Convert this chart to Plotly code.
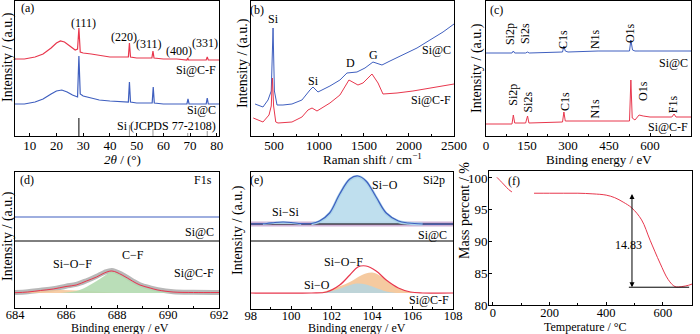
import plotly.graph_objects as go

FONT = "Liberation Serif"
RED = "#e8374d"
BLUE = "#3f5fbf"

# ---------------- (a) XRD ----------------
xrd_cf_2t = [4.5, 8, 12, 15, 18, 20, 21.5, 23, 25, 27, 27.9, 28.4, 28.9, 30, 33, 36, 40, 44, 46.9, 47.3,
             47.7, 50, 53, 55.7, 56.1, 56.5, 60, 65, 68.8, 69.1, 69.4, 72, 76.0, 76.4, 76.8, 80.8]
xrd_cf_int = [77, 77, 79, 82, 88, 93, 95, 94, 90, 86, 87, 108, 84, 83, 82, 81, 79, 79, 79, 93,
              79, 78, 78, 78, 85, 78, 77, 77, 76, 78, 76, 76, 76, 79, 76, 76]
xrd_c_2t = [4.5, 8, 12, 15, 18, 20, 22, 24, 26, 27.9, 28.4, 28.9, 30, 33, 36, 40, 44, 46.9, 47.3, 47.7,
            50, 53, 55.8, 56.2, 56.6, 60, 65, 68.8, 69.2, 69.6, 72, 76.0, 76.4, 76.8, 80.8]
xrd_c_int = [32, 32, 34, 37, 42, 45, 46, 44, 41, 39, 80, 42, 40, 38, 36, 35, 34, 34, 54, 34,
             33, 33, 33, 49, 33, 32, 32, 32, 37, 32, 32, 32, 38, 32, 32]
jcpds_pos = [28.4, 47.3, 56.1, 69.1, 76.4]
jcpds_int = [18, 11, 7, 3, 5]
xrd_peaks = ["(111)", "(220)", "(311)", "(400)", "(331)"]
xrd_peak_lbl_x = [30.2, 45.1, 54.7, 65.7, 75.7]
xrd_peak_lbl_y = [113, 99, 92, 85, 93]

# ---------------- (b) Raman ----------------
raman_c_x = [290, 378, 434, 470, 490, 505, 534, 600, 700, 811, 900, 934, 989, 1122, 1233, 1311, 1422,
             1511, 1600, 1700, 1789, 1933, 2089, 2233, 2378, 2500]
raman_c_y = [32, 29, 36, 45, 108, 45, 31, 31, 32, 36, 46, 49, 44, 50, 56, 63, 64,
             68, 74, 71, 75, 81, 88, 96, 104, 112]
raman_cf_x = [270, 378, 445, 470, 483, 496, 520, 545, 700, 811, 878, 923, 978, 1122, 1233, 1333, 1433,
              1489, 1589, 1656, 1711, 1867, 2044, 2233, 2500]
raman_cf_y = [18, 14, 21, 30, 58, 30, 14, 13, 14, 19, 26, 28, 25, 33, 41, 56, 51,
              53, 62, 53, 42, 43, 45, 48, 52]

# ---------------- (c) XPS survey ----------------
xps_c_be = [0, 95, 100, 105, 145, 152, 158, 280, 285, 290, 300, 390, 400, 410, 525, 530, 536, 545, 560, 750]
xps_c_int = [83, 83, 85, 83, 83, 84, 83, 84, 90, 85, 84, 85, 85.5, 85, 85, 96, 86, 85, 85, 85]
xps_cf_be = [0, 95, 100, 105, 145, 152, 157, 280, 285, 290, 300, 525, 530, 535, 545, 560, 575, 600, 680,
             688, 695, 750]
xps_cf_int = [12, 12, 21, 13, 13, 20, 13, 14, 24, 15, 15, 15, 56, 18, 16, 21, 20, 19, 19,
              22, 19, 19]
xps_c_lbl = ["Si2p", "Si2s", "C1s", "N1s", "O1s"]
xps_c_lbl_x = [88, 143, 282, 399, 527]
xps_c_lbl_y = [102, 102, 96, 97, 103]
xps_cf_lbl = ["Si2p", "Si2s", "C1s", "N1s", "O1s", "F1s"]
xps_cf_lbl_x = [98, 154, 289, 399, 574, 687]
xps_cf_lbl_y = [41, 33.5, 35, 27.5, 45, 31.5]

# ---------------- (d) F1s ----------------
f1s_be = [684, 684.5, 685, 685.5, 686, 686.4, 686.8, 687.2, 687.5, 687.8, 688.2, 688.6, 688.9, 689.3,
          689.6, 690.2, 691, 692]
f1s_cf_fit = [0.3, 1, 2.5, 4, 6.5, 8, 12, 16, 20, 22, 18, 12, 8, 5, 3, 1, 0.5, 0.5]
f1s_cf_raw = [0.5, 1.3, 2.8, 4.3, 6.8, 8.6, 12.3, 16.8, 20.5, 22.6, 18.5, 12.4, 8.3, 5.2, 3.4, 1.3, 0.7, 0.6]
f1s_c_be = [684, 692]
f1s_c_int = [76, 76]
f1s_cf_comp_be = [685.8, 686.4, 686.8, 687.2, 687.5, 687.8, 688.2, 688.6, 688.9, 689.3, 689.6, 690.2]
f1s_cf_comp_int = [0, 2, 6, 12, 17, 21.5, 17, 11, 7, 4, 2, 0]
f1s_siof_be = [684.3, 685, 685.8, 686.5, 687.2, 688]
f1s_siof_int = [0, 2, 3, 2.5, 1.5, 0]
f1s_sep = 52

# ---------------- (e) Si2p ----------------
si2p_c_be = [98, 98.8, 99.2, 99.6, 100, 100.5, 101, 101.4, 101.9, 102.4, 102.9, 103.3, 103.7, 104.2,
             104.7, 105.3, 105.8, 106.5, 108]
si2p_c_int = [69, 69.5, 70.5, 71, 70.5, 69.3, 69.5, 72, 80, 99, 114, 117, 112, 96, 80, 72, 70, 69, 69]
si2p_c_bg_be = [98, 108]
si2p_c_bg = [69, 69]
si2p_c_sio_be = [101, 101.4, 101.9, 102.4, 102.9, 103.3, 103.7, 104.2, 104.7, 105.3, 105.8, 106.5]
si2p_c_sio = [69.3, 71.5, 79.5, 98.5, 113.5, 116.5, 111.5, 95.5, 79.5, 71.5, 69.8, 69]
si2p_c_sisi_be = [98.6, 99.2, 99.6, 100, 100.5]
si2p_c_sisi = [69, 70.3, 70.8, 70.3, 69]
si2p_cf_be = [98, 101, 101.75, 102.4, 102.9, 103.3, 103.7, 104.2, 104.7, 105.3, 105.9, 106.5, 108]
si2p_cf_int = [0, 0, 1, 8, 18, 26, 27, 22, 13, 5, 1, 0, 0]
si2p_cf_siof_be = [101.3, 101.9, 102.9, 103.5, 104.0, 104.5, 105.0, 105.7, 106.2]
si2p_cf_siof = [0, 3, 11, 18, 20.5, 16, 8, 2, 0]
si2p_cf_sio_be = [101.3, 101.9, 102.5, 103.0, 103.3, 103.7, 104.2, 104.7, 105.2]
si2p_cf_sio = [0, 1.5, 5, 8.5, 9.5, 8.5, 5, 1.5, 0]
si2p_sep = 52

# ---------------- (f) TGA ----------------
tga_T = [14, 25, 40, 55, 67, None, 145, 200, 250, 300, 353, 400, 430, 460, 490, 525, 555, 590, 619, 643,
         667, 690, 703]
tga_mass = [100.1, 99.6, 98.9, 98.2, 97.8, None, 97.6, 97.6, 97.6, 97.6, 97.5, 97.3, 96.9, 96.2, 95.3,
            93.4, 90.2, 86.6, 84.0, 82.9, 82.9, 83.1, 83.3]
tga_ticks = [80, 85, 90, 95, 100]
tga_arrow_T = 491
tga_arrow_top = 97.7
tga_arrow_bot = 82.8
tga_loss_label = "14.83"

W, H = 700, 334

fig = go.Figure()


def add(x, y, ax, color, width=1.0, shape="linear", fill=None, fillcolor=None):
    fig.add_trace(go.Scatter(
        x=x, y=y, xaxis="x" + ax, yaxis="y" + ax, mode="lines",
        line=dict(color=color, width=width, shape=shape),
        fill=fill, fillcolor=fillcolor, showlegend=False, hoverinfo="skip", connectgaps=False))


# (a)
add(xrd_cf_2t, xrd_cf_int, "", RED, 1.2)
add(xrd_c_2t, xrd_c_int, "", BLUE, 1.2)
sx, sy = [], []
for p, h in zip(jcpds_pos[:1], jcpds_int[:1]):
    sx += [p, p, None]; sy += [0, h, None]
add(sx, sy, "", "black", 1.0)
sx, sy = [], []
for p, h in zip(jcpds_pos[1:], jcpds_int[1:]):
    sx += [p, p, None]; sy += [0, h, None]
add(sx, sy, "", "#999999", 1.0)

# (b)
add(raman_c_x, raman_c_y, "2", BLUE, 1.0)
add(raman_cf_x, raman_cf_y, "2", RED, 1.0)

# (c)
add(xps_c_be, xps_c_int, "3", BLUE, 1.0)
add(xps_cf_be, xps_cf_int, "3", RED, 1.0)

# (d)
add(f1s_c_be, f1s_c_int, "4", BLUE, 1.2)
add(f1s_be, f1s_cf_raw, "4", "#b8b8b8", 5, "spline")
add(f1s_siof_be, f1s_siof_int, "4", "rgba(0,0,0,0)", 0.5, "spline", "tozeroy", "rgba(244,196,150,0.85)")
add(f1s_cf_comp_be, f1s_cf_comp_int, "4", "rgba(0,0,0,0)", 0.5, "spline", "tozeroy", "rgba(178,218,176,0.9)")
add(f1s_be, f1s_cf_fit, "4", RED, 1.0, "spline")

# (e)
add(si2p_c_bg_be, si2p_c_bg, "5", "#cfb2d6", 5)
add(si2p_c_bg_be, si2p_c_bg, "5", "black", 1.0)
add(si2p_c_sio_be, si2p_c_sio, "5", "#a9d3ea", 3, "spline", "tonexty", "rgba(184,220,236,0.9)")
add(si2p_c_bg_be, si2p_c_bg, "5", "rgba(0,0,0,0)", 0.1)
add(si2p_c_sisi_be, si2p_c_sisi, "5", "#a9d3ea", 2, "spline", "tonexty", "rgba(184,220,236,0.9)")
add(si2p_c_be, si2p_c_int, "5", BLUE, 1.2, "spline")
add(si2p_cf_siof_be, si2p_cf_siof, "5", "rgba(0,0,0,0)", 0.5, "spline", "tozeroy", "rgba(244,196,150,0.9)")
add(si2p_cf_sio_be, si2p_cf_sio, "5", "rgba(0,0,0,0)", 0.5, "spline", "tozeroy", "rgba(180,214,226,0.85)")
add(si2p_cf_be, si2p_cf_int, "5", RED, 1.2, "spline")

# (f)
add(tga_T, tga_mass, "6", RED, 1.0, "spline")

# ---------- axes ----------
def px_x(p):
    return p / W


def px_y(p):
    return (H - p) / H


panels = {
    "": dict(x=(15, 219), y=(1, 136), xr=[4.5, 80.8], yr=[0, 135], dt=10, t0=10, minor=None, so=-3, fs=13),
    "2": dict(x=(251, 454), y=(1, 136), xr=[245, 2500], yr=[0, 135], dt=500, t0=500, minor=250, so=-3, fs=13),
    "3": dict(x=(486, 691), y=(1, 136), xr=[0, 750], yr=[0, 135], dt=150, t0=0, minor=75, so=-3, fs=13),
    "4": dict(x=(15, 219), y=(172, 308), xr=[684, 692], yr=[-15, 121], dt=2, t0=684, minor=1, so=-5, fs=12.5),
    "5": dict(x=(250.7, 453), y=(172, 309), xr=[98, 108], yr=[-16, 121], dt=2, t0=98, minor=1, so=-5, fs=12.5),
    "6": dict(x=(489, 692), y=(171, 305), xr=[-14, 703], yr=[80, 101.1], dt=200, t0=0, minor=100, so=-4, fs=12.5),
}

for k, p in panels.items():
    tickfont = dict(family=FONT, size=p["fs"], color="black")
    xa = dict(domain=[px_x(p["x"][0]), px_x(p["x"][1])], range=p["xr"], anchor="y" + k,
              showline=True, linecolor="black", linewidth=1, mirror=True, ticks="inside",
              ticklen=3, tickcolor="black", showgrid=False, zeroline=False, tickfont=tickfont,
              tick0=p["t0"], dtick=p["dt"], automargin=False, ticklabelstandoff=p["so"])
    if p["minor"]:
        xa["minor"] = dict(ticks="inside", ticklen=2, dtick=p["minor"], tickcolor="black", showgrid=False)
    ya = dict(domain=[px_y(p["y"][1]), px_y(p["y"][0])], range=p["yr"], anchor="x" + k,
              showline=True, linecolor="black", linewidth=1, mirror=True, showgrid=False,
              zeroline=False, automargin=False)
    if k == "6":
        ya.update(ticks="inside", ticklen=3, tickcolor="black",
                  tickfont=dict(family=FONT, size=13, color="black"),
                  tickmode="array", tickvals=tga_ticks, ticktext=[str(v) for v in tga_ticks],
                  showticklabels=True, ticklabelposition="outside", ticklabelstandoff=-2)
    else:
        ya.update(ticks="", showticklabels=False)
    fig.layout["xaxis" + k] = xa
    fig.layout["yaxis" + k] = ya

ann = []
F = dict(family=FONT, size=12, color="black")
FT = dict(family=FONT, size=13, color="black")
FTB = dict(family=FONT, size=12, color="black")
FY = dict(family=FONT, size=14, color="black")


def txt(ax, x, y, s, xanchor="center", angle=0):
    ann.append(dict(xref="x" + ax, yref="y" + ax, x=x, y=y, text=s, showarrow=False,
                    xanchor=xanchor, yanchor="middle", font=F, textangle=angle))


def ptxt(px, py, s, angle=0, font=FT):
    ann.append(dict(xref="paper", yref="paper", x=px_x(px), y=px_y(py), text=s, showarrow=False,
                    xanchor="center", yanchor="middle", font=font, textangle=angle))


# (a)
txt("", 9.2, 128, "(a)")
for s, x, y in zip(xrd_peaks, xrd_peak_lbl_x, xrd_peak_lbl_y):
    txt("", x, y, s)
txt("", 80.4, 66, "Si@C-F", "right")
txt("", 80.4, 26, "Si@C", "right")
txt("", 80.4, 10, "Si (JCPDS 77-2108)", "right")
# (b)
txt("2", 312, 126, "(b)")
txt("2", 500, 117, "Si")
txt("2", 934, 55, "Si")
txt("2", 1345, 73, "D")
txt("2", 1606, 81, "G")
txt("2", 2490, 86, "Si@C", "right")
txt("2", 2490, 36, "Si@C-F", "right")
# (c)
txt("3", 37, 126, "(c)")
for s, x, y in zip(xps_c_lbl, xps_c_lbl_x, xps_c_lbl_y):
    txt("3", x, y, s, angle=-90)
for s, x, y in zip(xps_cf_lbl, xps_cf_lbl_x, xps_cf_lbl_y):
    txt("3", x, y, s, angle=-90)
txt("3", 745, 73, "Si@C", "right")
txt("3", 745, 9, "Si@C-F", "right")
# (d)
txt("4", 684.46, 113, "(d)")
txt("4", 691.8, 113, "F1s", "right")
txt("4", 691.9, 61, "Si@C", "right")
txt("4", 686.27, 29, "Si−O−F")
txt("4", 688.63, 38, "C−F")
txt("4", 691.9, 20, "Si@C-F", "right")
# (e)
txt("5", 98.3, 113, "(e)")
txt("5", 107.7, 113, "Si2p", "right")
txt("5", 104.64, 108, "Si−O")
txt("5", 99.71, 81, "Si−Si")
txt("5", 107.8, 58, "Si@C", "right")
txt("5", 102.6, 31, "Si−O−F")
txt("5", 101.3, 8, "Si−O")
txt("5", 107.9, -7, "Si@C-F", "right")
# (f)
txt("6", 74, 99.5, "(f)")
txt("6", 480, 89.4, tga_loss_label)
ann.append(dict(xref="x6", yref="y6", axref="x6", ayref="y6", x=tga_arrow_T, y=tga_arrow_bot,
                ax=tga_arrow_T, ay=tga_arrow_top, text="", showarrow=True, arrowhead=2,
                arrowside="end+start", arrowsize=1, arrowwidth=1, arrowcolor="black"))

# axis titles
ptxt(122, 159, "<i>2θ</i> / (°)")
ptxt(372, 159, "Raman shift / cm<sup>−1</sup>")
ptxt(599, 159, "Binding energy / eV")
ptxt(120, 328, "Binding energy / eV", font=FTB)
ptxt(357, 328, "Binding energy / eV", font=FTB)
ptxt(585, 326.5, "Temperature / °C", font=FTB)
ptxt(8, 57, "Intensity / (a.u.)", -90, FY)
ptxt(243, 63, "Intensity / (a.u.)", -90, FY)
ptxt(477, 68, "Intensity / (a.u.)", -90, FY)
ptxt(8, 236, "Intensity / (a.u.)", -90, FY)
ptxt(238, 230, "Intensity / (a.u.)", -90, FY)
ptxt(465, 211, "Mass percent / %", -90, FY)

shapes = [
    dict(type="line", xref="x4 domain", yref="y4", x0=0, x1=1, y0=f1s_sep, y1=f1s_sep,
         line=dict(color="black", width=1)),
    dict(type="line", xref="x5 domain", yref="y5", x0=0, x1=1, y0=si2p_sep, y1=si2p_sep,
         line=dict(color="black", width=1)),
    dict(type="line", xref="x6", yref="y6", x0=480, x1=693, y0=tga_arrow_bot, y1=tga_arrow_bot,
         line=dict(color="black", width=1)),
]

fig.update_layout(width=W, height=H, margin=dict(l=0, r=0, t=0, b=0, pad=0), autosize=False,
                  paper_bgcolor="white", plot_bgcolor="white", annotations=ann, shapes=shapes,
                  font=F, showlegend=False)

fig.write_html("out.html")
